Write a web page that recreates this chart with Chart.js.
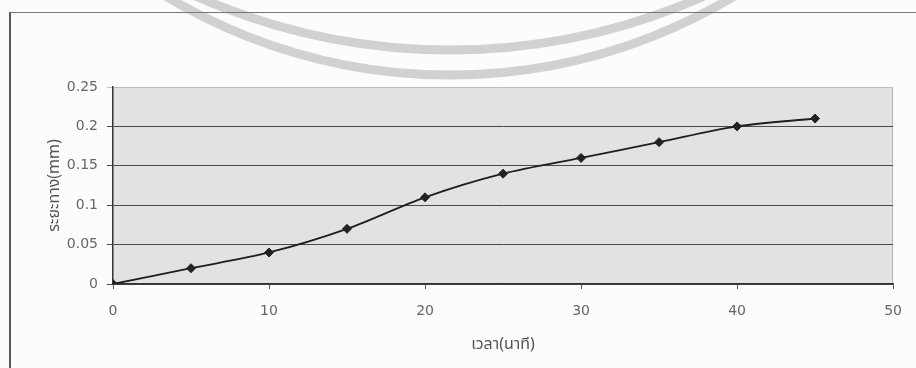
<!DOCTYPE html>
<html>
<head>
<meta charset="utf-8">
<script src="https://cdn.jsdelivr.net/npm/chart.js@4.4.1/dist/chart.umd.min.js"></script>
<style>
  html, body { margin: 0; padding: 0; background: #fcfcfc; }
  #wrap { width: 916px; height: 368px; position: relative; }
</style>
</head>
<body>
<div id="wrap"><canvas id="c" width="916" height="368"></canvas></div>
<script>
// Elapsed time (minutes) and measured distance (mm)
const timeMin = [0, 5, 10, 15, 20, 25, 30, 35, 40, 45];
const distanceMm = [0, 0.02, 0.04, 0.07, 0.11, 0.14, 0.16, 0.18, 0.20, 0.21];

const xTickLabels = ['0', '10', '20', '30', '40', '50'];
const yTickLabels = ['0', '0.05', '0.1', '0.15', '0.2', '0.25'];

const xTitle = 'เวลา(นาที)';
const yTitle = 'ระยะทาง(mm)';

const tickFont = { family: "'DejaVu Sans', 'Liberation Sans', sans-serif", size: 14 };
const titleFont = { family: "'Noto Sans Thai', 'Noto Sans', 'DejaVu Sans', sans-serif", size: 16 };

// Page frame, faint seal stamp and grey plot background
const backdrop = {
  id: 'backdrop',
  beforeDraw(chart) {
    const { ctx, chartArea: a } = chart;
    ctx.save();
    // seal stamp rings
    ctx.strokeStyle = 'rgba(150,150,150,0.42)';
    ctx.lineWidth = 9;
    ctx.beginPath();
    ctx.arc(450, -476, 551, 0, Math.PI);
    ctx.stroke();
    ctx.beginPath();
    ctx.arc(450, -575, 625, 0, Math.PI);
    ctx.stroke();
    // outer frame
    ctx.strokeStyle = '#555';
    ctx.lineWidth = 2;
    ctx.beginPath();
    ctx.moveTo(10, 368);
    ctx.lineTo(10, 12);
    ctx.stroke();
    ctx.strokeStyle = '#777';
    ctx.lineWidth = 1;
    ctx.beginPath();
    ctx.moveTo(10, 12.5);
    ctx.lineTo(916, 12.5);
    ctx.stroke();
    // plot area
    ctx.fillStyle = '#e2e2e2';
    ctx.fillRect(a.left, a.top, a.right - a.left, a.bottom - a.top);
    ctx.strokeStyle = '#b5b5b5';
    ctx.lineWidth = 1;
    ctx.beginPath();
    ctx.moveTo(a.right - 0.5, a.top);
    ctx.lineTo(a.right - 0.5, a.bottom);
    ctx.stroke();
    ctx.restore();
  }
};

new Chart(document.getElementById('c'), {
  type: 'scatter',
  data: {
    datasets: [{
      data: timeMin.map((t, i) => ({ x: t, y: distanceMm[i] })),
      showLine: true,
      tension: 0.3,
      borderColor: '#1e1e1e',
      borderWidth: 1.8,
      pointStyle: 'rectRot',
      pointRadius: 4.5,
      pointBackgroundColor: '#222',
      pointBorderColor: '#222',
      pointBorderWidth: 1
    }]
  },
  options: {
    responsive: false,
    animation: false,
    layout: { padding: { top: 87, right: 21, bottom: 0, left: 0 } },
    plugins: { legend: { display: false }, tooltip: { enabled: false } },
    scales: {
      x: {
        type: 'linear',
        min: 0,
        max: 50,
        afterFit: s => { s.height = 84; },
        ticks: {
          stepSize: 10,
          callback: (v, i) => xTickLabels[i],
          font: tickFont,
          color: '#666',
          padding: 14,
          maxRotation: 0
        },
        grid: { drawOnChartArea: false, tickLength: 5, color: '#555' },
        border: { color: '#333', width: 1.5 },
        title: {
          display: true,
          text: xTitle,
          font: titleFont,
          color: '#555',
          padding: { top: 0, bottom: 13 }
        }
      },
      y: {
        min: 0,
        max: 0.25,
        afterFit: s => { s.width = 113; },
        ticks: {
          stepSize: 0.05,
          callback: (v, i) => yTickLabels[i],
          font: tickFont,
          color: '#666',
          padding: 9
        },
        grid: {
          color: c => (c.tick && c.tick.value >= 0.25 ? '#bdbdbd' : '#4a4a4a'),
          tickLength: 6,
          lineWidth: 1
        },
        border: { color: '#333', width: 1.5 },
        title: {
          display: true,
          text: yTitle,
          font: titleFont,
          color: '#555',
          padding: { top: 46, bottom: 0 }
        }
      }
    }
  },
  plugins: [backdrop]
});
</script>
</body>
</html>
